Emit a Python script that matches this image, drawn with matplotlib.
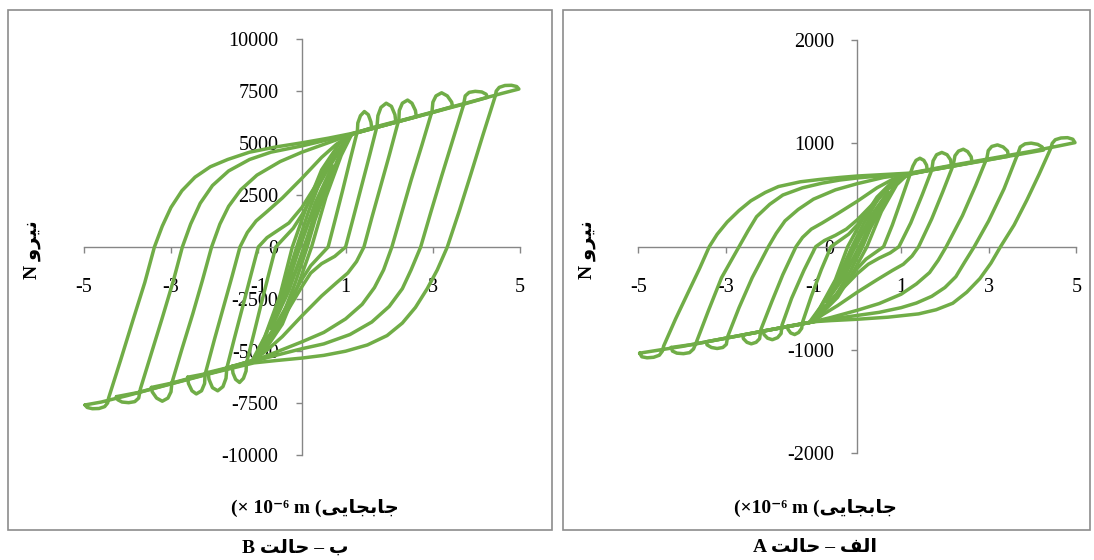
import matplotlib
matplotlib.use('Agg')
import matplotlib.pyplot as plt
from matplotlib.patches import Rectangle

plt.rcParams['font.family'] = ['Liberation Serif', 'DejaVu Sans']

W, H = 1094, 560
GREEN = '#70AD47'
GRAY = '#868686'

# ---------------- data (x in 1e-6 m, force in N) ----------------
x_ticks = [-5, -3, -1, 1, 3, 5]
x_ticklabels = ['-5', '-3', '-1', '1', '3', '5']
B_yticks = [-10000, -7500, -5000, -2500, 0, 2500, 5000, 7500, 10000]
A_yticks = [-2000, -1000, 0, 1000, 2000]

# Panel B (left) hysteresis loops
B_x1 = [-4.97,-4.92,-4.8,-4.65,-4.52,-4.45,-4.43,-4.15,-3.87,-3.6,-3.38,-3.2,-3.0,-2.75,-2.45,-2.1,-1.7,-1.2,-0.6,0,0.6,1.15,2,3,4,4.6,4.97,4.92,4.8,4.65,4.52,4.45,4.43,4.15,3.87,3.6,3.33,3.1,2.87,2.6,2.3,1.95,1.5,1.0,0.5,0,-0.6,-1.1,-2,-3,-4,-4.6,-4.97]
B_y1 = [-7580,-7700,-7760,-7750,-7660,-7480,-7250,-5400,-3500,-1700,0,1000,1900,2700,3350,3850,4200,4550,4800,5000,5220,5450,5920,6480,7040,7380,7580,7700,7760,7750,7660,7480,7250,5400,3500,1700,0,-1100,-2000,-2900,-3650,-4250,-4700,-5000,-5200,-5330,-5450,-5560,-6020,-6570,-7130,-7440,-7580]
B_x2 = [-4.25,-4.22,-4.12,-3.97,-3.83,-3.74,-3.7,-3.45,-3.2,-2.95,-2.74,-2.55,-2.33,-2.05,-1.68,-1.2,-0.71,0,0.6,1.15,2,3,3.75,4.25,4.22,4.12,3.97,3.83,3.74,3.7,3.45,3.2,2.95,2.72,2.5,2.3,2.0,1.6,1.1,0.5,0,-0.6,-1.1,-2,-3,-3.75,-4.25]
B_y2 = [-7180,-7330,-7440,-7470,-7420,-7250,-6800,-5100,-3400,-1650,0,1100,2100,2950,3650,4200,4550,4850,5150,5420,5900,6460,6880,7180,7330,7440,7470,7420,7250,6800,5100,3400,1650,0,-1100,-2000,-2850,-3600,-4200,-4650,-4880,-5200,-5480,-6000,-6560,-6980,-7180]
B_x3 = [-3.45,-3.43,-3.33,-3.2,-3.07,-3.0,-2.98,-2.75,-2.5,-2.28,-2.07,-1.88,-1.68,-1.4,-1.03,-0.5,0,0.6,1.15,2,3,3.45,3.43,3.33,3.2,3.07,3.0,2.98,2.75,2.5,2.28,2.06,1.87,1.66,1.38,1.0,0.5,0,-0.6,-1.1,-2,-3,-3.45]
B_y3 = [-6740,-6950,-7250,-7400,-7250,-6950,-6520,-4900,-3200,-1600,0,1100,1950,2750,3450,4100,4550,5000,5420,5900,6460,6740,6950,7250,7400,7250,6950,6520,4900,3200,1600,0,-1100,-1950,-2750,-3450,-4100,-4550,-5050,-5460,-5980,-6540,-6740]
B_x4 = [-2.62,-2.6,-2.52,-2.42,-2.3,-2.23,-2.22,-2.0,-1.8,-1.6,-1.42,-1.25,-1.05,-0.8,-0.45,0,0.45,0.8,1.15,2,2.62,2.6,2.52,2.42,2.3,2.23,2.22,2.0,1.8,1.6,1.42,1.25,1.05,0.8,0.45,0,-0.45,-0.8,-1.1,-2,-2.62]
B_y4 = [-6250,-6550,-6900,-7050,-6900,-6550,-6120,-4400,-2900,-1400,0,700,1250,1700,2350,3300,4300,4950,5420,5900,6250,6550,6900,7050,6900,6550,6120,4400,2900,1400,0,-700,-1250,-1700,-2350,-3300,-4300,-4950,-5430,-6000,-6250]
B_x5 = [-2.15,-2.13,-2.05,-1.93,-1.81,-1.74,-1.72,-1.55,-1.35,-1.17,-1.0,-0.8,-0.55,-0.3,0,0.3,0.6,0.9,1.15,1.6,2.15,2.13,2.05,1.93,1.81,1.74,1.72,1.55,1.35,1.17,1.0,0.75,0.45,0.2,0,-0.3,-0.55,-0.85,-1.1,-1.6,-2.15]
B_y5 = [-6020,-6350,-6750,-6900,-6700,-6300,-5800,-4400,-2800,-1350,0,450,800,1150,1900,2900,3950,4850,5420,5720,6020,6350,6750,6900,6700,6300,5800,4400,2800,1350,0,-450,-800,-1250,-1900,-2950,-3800,-4750,-5420,-5740,-6020]
B_x6 = [-1.6,-1.58,-1.52,-1.43,-1.34,-1.28,-1.27,-1.1,-0.93,-0.76,-0.6,-0.4,-0.2,0,0.3,0.6,0.9,1.15,1.6,1.58,1.52,1.43,1.34,1.28,1.27,1.1,0.93,0.76,0.6,0.4,0.2,0,-0.3,-0.6,-0.9,-1.1,-1.6]
B_y6 = [-5720,-6050,-6350,-6500,-6300,-5950,-5560,-4150,-2700,-1300,0,450,900,1550,2650,3750,4750,5430,5700,6000,6350,6500,6300,5950,5560,4150,2700,1300,0,-450,-900,-1550,-2650,-3750,-4750,-5440,-5720]
B_x7 = [-1.15,-0.85,-0.5,-0.22,0.1,0.45,0.85,1.15,0.9,0.55,0.22,-0.1,-0.45,-0.85,-1.15]
B_y7 = [-5500,-4300,-2300,0,1900,3700,4950,5450,4400,2400,0,-1900,-3700,-4950,-5500]
B_x8 = [-0.95,-0.6,-0.3,-0.12,0.15,0.5,0.95,0.65,0.3,0.12,-0.15,-0.5,-0.95]
B_y8 = [-4800,-3100,-1200,0,1700,3600,4900,3300,1300,0,-1700,-3600,-4800]
B_x9 = [-0.7,-0.35,-0.05,0.3,0.7,0.35,0.05,-0.3,-0.7]
B_y9 = [-3900,-1800,0,2100,3900,1800,0,-2100,-3900]
B_x10 = [-0.45,-0.1,0.15,0.45,0.1,-0.15,-0.45]
B_y10 = [-2600,-300,1200,2600,300,-1200,-2600]

# Panel A (right) hysteresis loops
A_x1 = [-4.97,-4.92,-4.8,-4.65,-4.52,-4.45,-4.42,-4.15,-3.87,-3.6,-3.38,-3.2,-2.97,-2.7,-2.43,-2.1,-1.8,-1.3,-0.87,-0.4,0,0.6,1.2,2,3,4,4.6,4.97,4.92,4.8,4.65,4.52,4.45,4.42,4.15,3.87,3.58,3.27,3.05,2.8,2.5,2.18,1.8,1.4,0.7,0,-0.6,-1.0,-2,-3,-4,-4.6,-4.97]
A_y1 = [-1030,-1065,-1075,-1070,-1050,-1010,-960,-700,-450,-210,0,120,239,350,444,525,582,628,650,670,684,698,712,775,850,925,975,1007,1040,1055,1052,1035,1000,955,700,450,210,0,-160,-308,-440,-547,-610,-650,-682,-702,-715,-726,-805,-885,-965,-1005,-1030]
A_x2 = [-4.25,-4.22,-4.12,-3.97,-3.83,-3.74,-3.68,-3.4,-3.1,-2.7,-2.5,-2.3,-2.0,-1.7,-1.25,-0.8,-0.4,0,0.6,1.2,2,3,3.75,4.25,4.22,4.12,3.97,3.83,3.72,3.67,3.35,3.0,2.67,2.45,2.25,2.0,1.7,1.35,1.0,0.5,0,-0.6,-1.0,-2,-3,-3.75,-4.25]
A_y2 = [-975,-1010,-1030,-1035,-1025,-990,-930,-620,-300,0,150,290,410,500,570,615,645,665,688,708,768,842,897,935,965,990,1002,995,965,905,560,250,0,-150,-290,-395,-480,-545,-590,-635,-665,-700,-726,-805,-885,-945,-975]
A_x3 = [-3.45,-3.43,-3.33,-3.2,-3.07,-2.99,-2.96,-2.7,-2.4,-2.03,-1.85,-1.65,-1.35,-1.0,-0.5,0,0.6,1.2,2,3,3.45,3.43,3.33,3.2,3.07,2.99,2.96,2.7,2.4,2.03,1.85,1.65,1.35,1.0,0.5,0,-0.6,-1.0,-2,-3,-3.45]
A_y3 = [-920,-950,-975,-985,-975,-945,-870,-590,-300,0,130,250,360,460,550,610,670,705,765,840,875,925,965,985,970,930,860,590,300,0,-130,-250,-360,-460,-550,-615,-685,-726,-805,-885,-920]
A_x4 = [-2.62,-2.6,-2.52,-2.42,-2.31,-2.23,-2.2,-1.95,-1.7,-1.4,-1.25,-1.05,-0.8,-0.45,0,0.45,0.8,1.2,2,2.62,2.6,2.52,2.42,2.31,2.23,2.19,1.95,1.7,1.4,1.25,1.05,0.8,0.45,0,-0.45,-0.8,-1.0,-2,-2.62]
A_y4 = [-855,-890,-925,-940,-925,-890,-800,-530,-270,0,90,170,230,320,440,570,650,705,765,815,870,920,943,925,880,790,530,270,0,-90,-170,-230,-320,-440,-570,-660,-726,-805,-855]
A_x5 = [-2.15,-2.13,-2.05,-1.94,-1.82,-1.74,-1.72,-1.5,-1.22,-0.95,-0.75,-0.5,-0.25,0,0.3,0.6,0.9,1.2,1.6,2.15,2.13,2.05,1.93,1.81,1.73,1.7,1.48,1.22,0.95,0.75,0.5,0.25,0,-0.3,-0.6,-0.85,-1.0,-1.6,-2.15]
A_y5 = [-815,-850,-885,-900,-880,-840,-760,-500,-230,0,60,110,170,260,390,520,650,705,738,782,840,890,912,890,830,742,500,230,0,-60,-110,-170,-260,-390,-520,-650,-726,-775,-815]
A_x6 = [-1.6,-1.58,-1.52,-1.43,-1.34,-1.27,-1.25,-1.05,-0.82,-0.6,-0.4,-0.2,0,0.3,0.6,0.9,1.2,1.6,1.58,1.52,1.43,1.34,1.27,1.2,1.0,0.8,0.6,0.4,0.2,0,-0.3,-0.6,-0.85,-1.0,-1.6]
A_y6 = [-770,-800,-835,-850,-830,-790,-730,-480,-220,0,60,120,210,370,520,640,700,735,790,835,856,835,780,694,450,210,0,-60,-120,-210,-370,-520,-650,-726,-770]
A_x7 = [-1.1,-0.85,-0.5,-0.22,0.1,0.45,0.85,1.15,0.9,0.55,0.22,-0.1,-0.45,-0.85,-1.1]
A_y7 = [-735,-590,-320,0,250,480,650,700,600,340,0,-250,-490,-660,-735]
A_x8 = [-0.95,-0.6,-0.3,-0.12,0.15,0.5,0.95,0.65,0.3,0.12,-0.15,-0.5,-0.95]
A_y8 = [-660,-420,-170,0,230,480,660,450,180,0,-230,-480,-660]
A_x9 = [-0.7,-0.35,-0.05,0.3,0.7,0.35,0.05,-0.3,-0.7]
A_y9 = [-530,-250,0,290,530,250,0,-290,-530]
A_x10 = [-0.45,-0.1,0.15,0.45,0.1,-0.15,-0.45]
A_y10 = [-350,-40,160,350,40,-160,-350]

B_loops = [(B_x1, B_y1), (B_x2, B_y2), (B_x3, B_y3), (B_x4, B_y4), (B_x5, B_y5),
           (B_x6, B_y6), (B_x7, B_y7), (B_x8, B_y8), (B_x9, B_y9), (B_x10, B_y10)]
A_loops = [(A_x1, A_y1), (A_x2, A_y2), (A_x3, A_y3), (A_x4, A_y4), (A_x5, A_y5),
           (A_x6, A_y6), (A_x7, A_y7), (A_x8, A_y8), (A_x9, A_y9), (A_x10, A_y10)]

# Texts (Arabic in visual order, presentation forms)
xlabel_B = '(\u00d7 10\u207b\u2076 m (\ufef0\ufef3\ufe8e\ufea0\ufe91\ufe8e\ufe9f'
xlabel_A = '(\u00d710\u207b\u2076 m (\ufef0\ufef3\ufe8e\ufea0\ufe91\ufe8e\ufe9f'
ylabel = 'N \ufeed\ufeae\ufef4\ufee7'
caption_B = 'B \ufe96\ufedf\ufe8e\ufea3 \u2013 \ufe8f'
caption_A = 'A \ufe96\ufedf\ufe8e\ufea3 \u2013 \ufed2\ufedf\ufe8d'

# ---------------- figure ----------------
fig = plt.figure(figsize=(W / 100, H / 100), dpi=100)


def px_rect(x0, y0, x1, y1):
    return [x0 / W, 1 - y1 / H, (x1 - x0) / W, (y1 - y0) / H]


# panel frames
for (x0, y0, x1, y1) in [(8, 10, 552, 530), (563, 10, 1090, 530)]:
    fig.add_artist(Rectangle((x0 / W, 1 - y1 / H), (x1 - x0) / W, (y1 - y0) / H,
                             transform=fig.transFigure, fill=False,
                             edgecolor='#8c8c8c', linewidth=1.2))


def setup(ax, ylim, yticks, loops):
    ax.set_xlim(-5, 5)
    ax.set_ylim(*ylim)
    ax.patch.set_alpha(0)
    for s in ['top', 'right']:
        ax.spines[s].set_visible(False)
    ax.spines['left'].set_position(('data', 0))
    ax.spines['bottom'].set_position(('data', 0))
    for s in ['left', 'bottom']:
        ax.spines[s].set_color(GRAY)
        ax.spines[s].set_linewidth(1.0)
    ax.set_xticks(x_ticks)
    ax.set_xticklabels(x_ticklabels)
    ax.set_yticks(yticks)
    ax.set_yticklabels([str(v) for v in yticks])
    ax.tick_params(axis='x', direction='out', length=4, width=1, color=GRAY,
                   pad=18.5, labelsize=14.5)
    ax.tick_params(axis='y', direction='out', length=4.3, width=1, color=GRAY,
                   pad=12.5, labelsize=14.5)
    for xs, ys in loops:
        ax.plot(xs, ys, color=GREEN, lw=2.5, solid_joinstyle='round',
                solid_capstyle='round', zorder=3, clip_on=False)


axB = fig.add_axes(px_rect(83.7, 38.6, 520.2, 455.4))
setup(axB, (-10000, 10000), B_yticks, B_loops)
axA = fig.add_axes(px_rect(638.3, 40, 1076.3, 453.4))
setup(axA, (-2000, 2000), A_yticks, A_loops)

fam = ['Liberation Serif', 'DejaVu Sans']
fig.text(315 / W, 1 - 508 / H, xlabel_B, ha='center', va='center', fontsize=14,
         fontweight='bold', family=fam)
fig.text(815 / W, 1 - 508 / H, xlabel_A, ha='center', va='center', fontsize=14,
         fontweight='bold', family=fam)
fig.text(32 / W, 1 - 250 / H, ylabel, ha='center', va='center', rotation=90,
         fontsize=14, fontweight='bold', family=fam)
fig.text(587 / W, 1 - 250 / H, ylabel, ha='center', va='center', rotation=90,
         fontsize=14, fontweight='bold', family=fam)
fig.text(295 / W, 1 - 548 / H, caption_B, ha='center', va='center', fontsize=14,
         fontweight='bold', family=fam)
fig.text(815 / W, 1 - 548 / H, caption_A, ha='center', va='center', fontsize=14,
         fontweight='bold', family=fam)

fig.savefig('out.png', dpi=100)
